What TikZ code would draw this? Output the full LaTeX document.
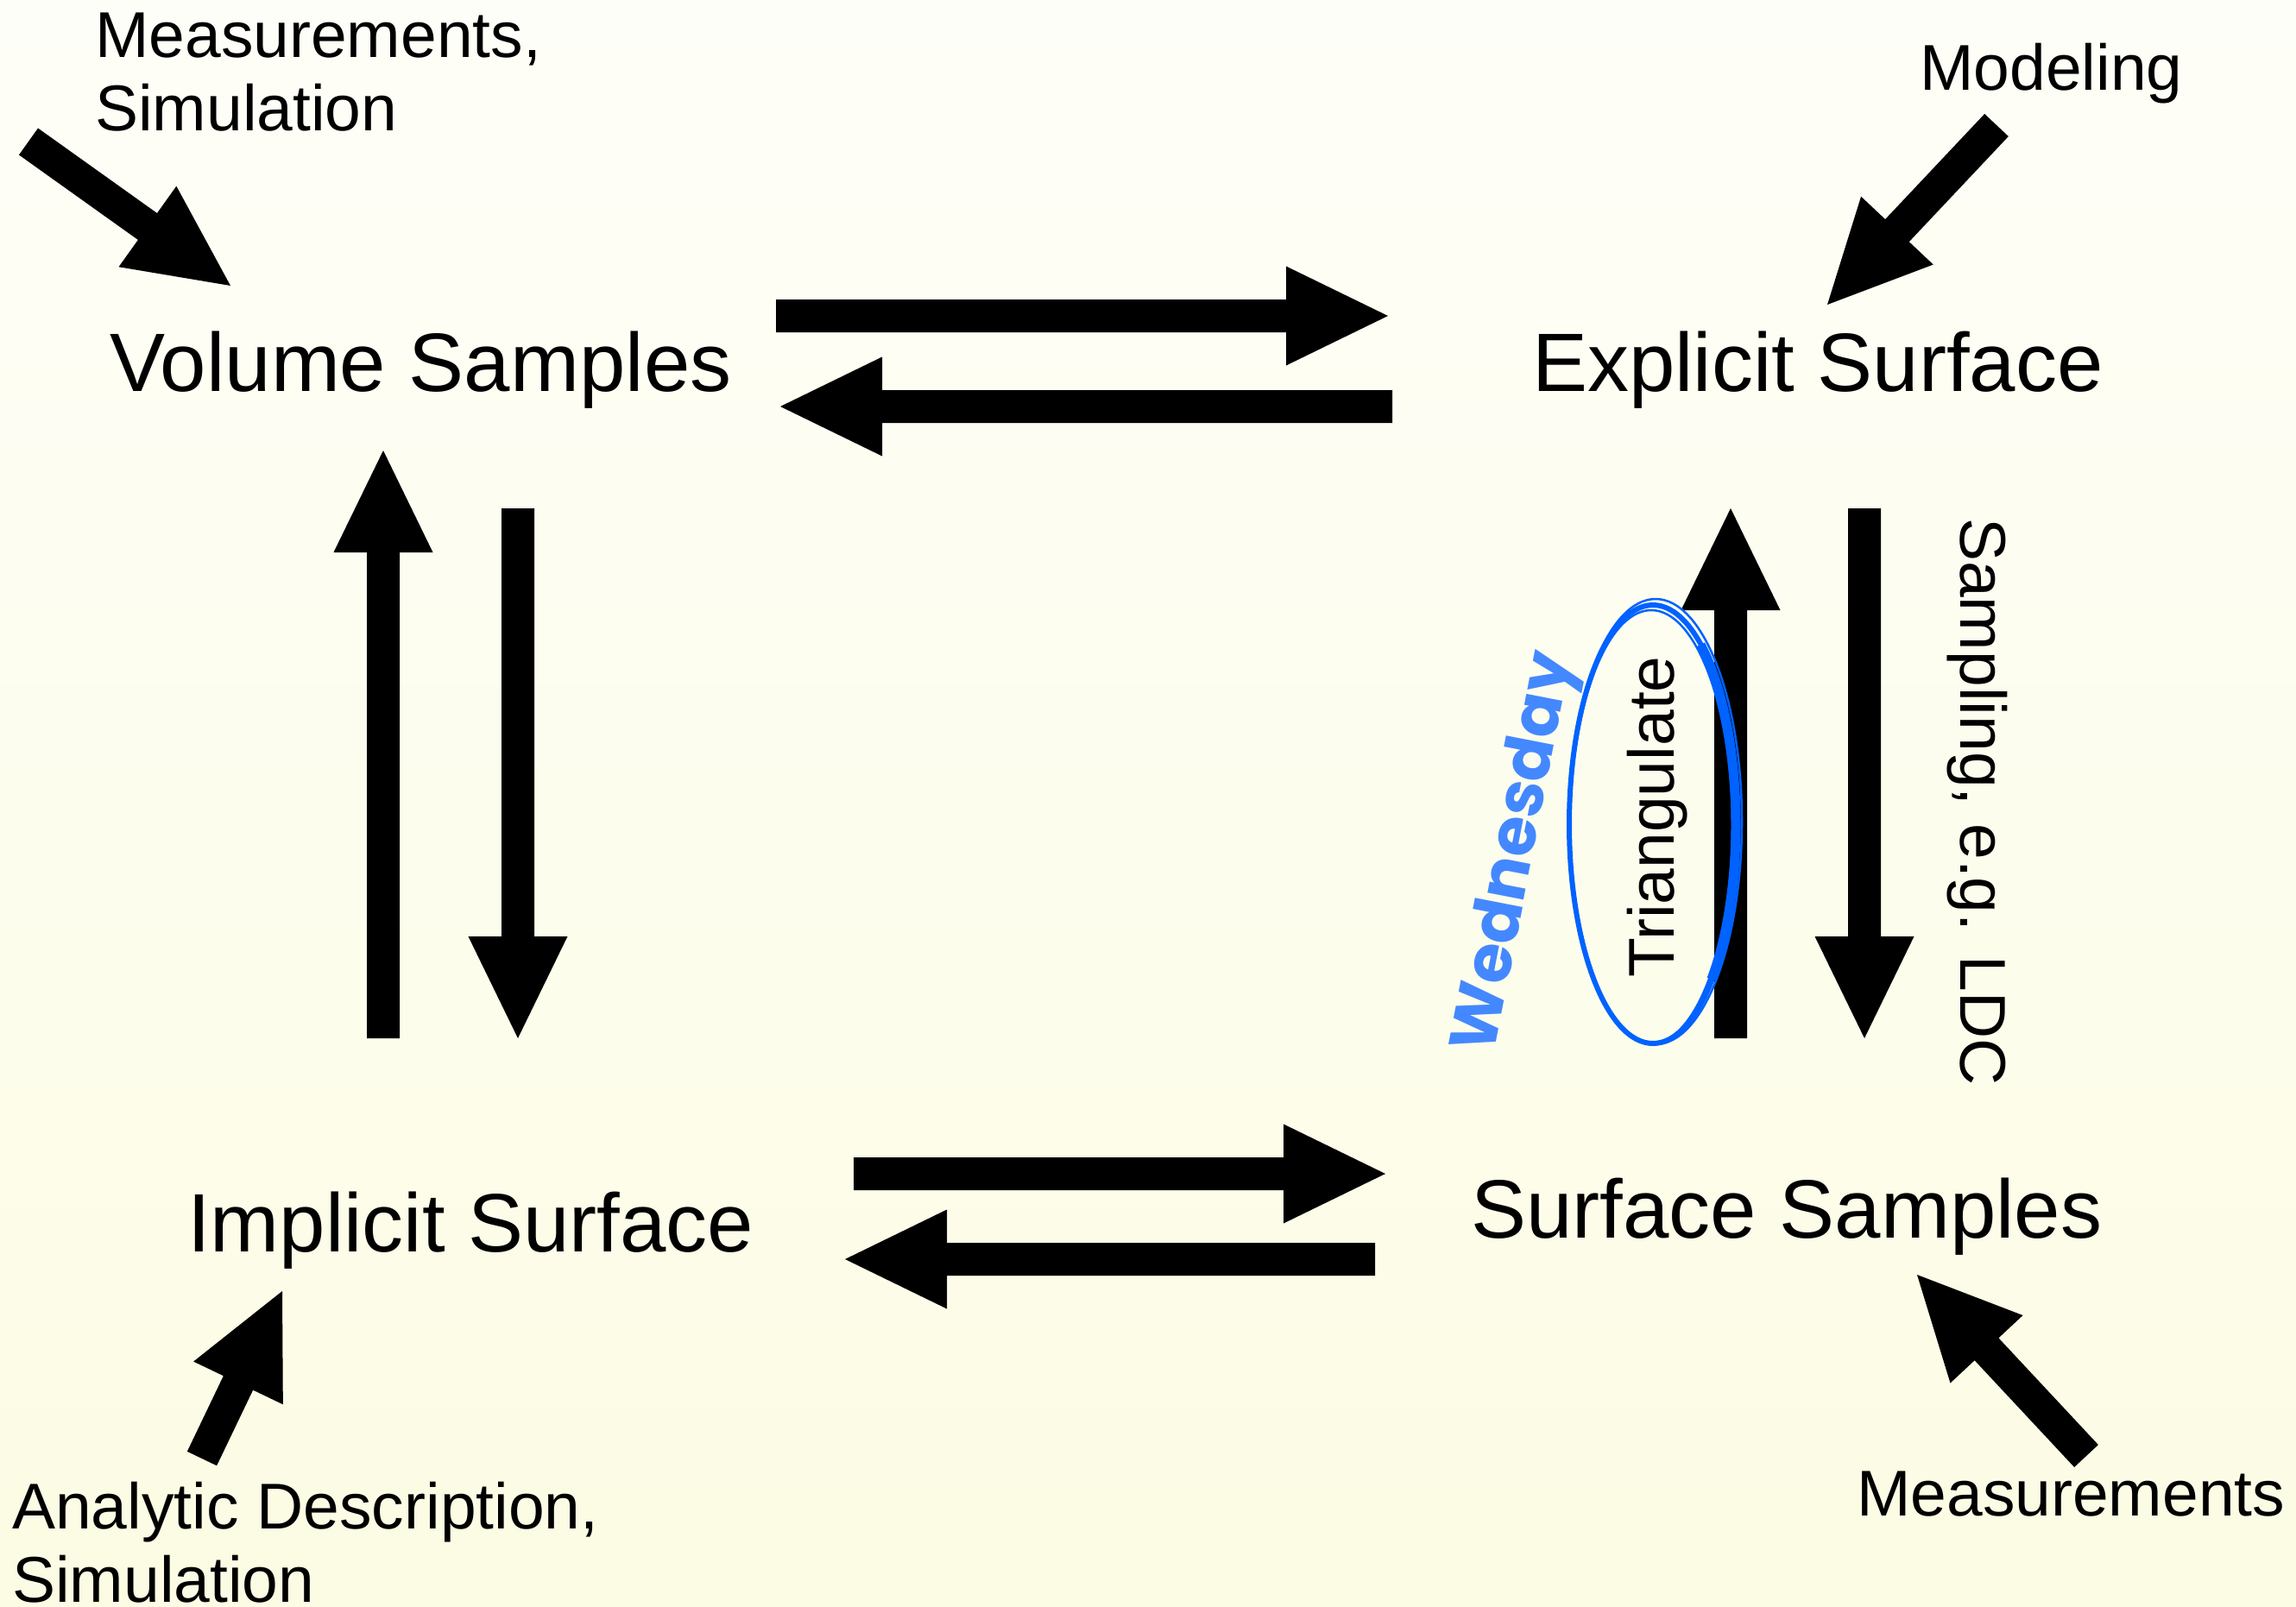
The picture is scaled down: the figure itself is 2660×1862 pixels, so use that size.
\documentclass[tikz,border=0pt]{standalone}
\usepackage{fontspec}
\setmainfont{Liberation Sans}
\newfontfamily\handfont{Poppins}
\usetikzlibrary{calc}

\definecolor{bgtop}{RGB}{254,254,248}
\definecolor{bgbot}{RGB}{252,252,228}
\definecolor{inkblue}{RGB}{0,98,255}
\definecolor{noteblue}{RGB}{68,136,255}

% block arrow from tail centre #1 to tip #2 (shaft 38, head 115 wide, 118 long)
\newcommand\blockarrow[2]{%
  \coordinate (hb) at ($(#2)!118pt!(#1)$);
  \fill ($(#1)!19pt!90:(#2)$) -- ($(hb)!19pt!90:(#2)$) -- ($(hb)!57.5pt!90:(#2)$)
    -- (#2) -- ($(hb)!57.5pt!-90:(#2)$) -- ($(hb)!19pt!-90:(#2)$)
    -- ($(#1)!19pt!-90:(#2)$) -- cycle;}

\begin{document}
\begin{tikzpicture}[x=1pt,y=-1pt,
  big/.style={font=\fontsize{96}{110}\selectfont, inner sep=0pt, anchor=base west},
  small/.style={font=\fontsize{75}{85}\selectfont, inner sep=0pt},
  note/.style={font=\handfont\bfseries\fontsize{76}{86}\selectfont, text=noteblue, inner sep=0pt},
  ring/.style={draw=inkblue, line width=6pt}]

% background
\useasboundingbox (0,0) rectangle (2660,1862);
\shade[top color=bgtop, bottom color=bgbot] (0,0) rectangle (2660,1862);

% main labels
\node[big] (vol) at (127,453) {Volume Samples};
\node[big] (expl) at (1775,453) {Explicit Surface};
\node[big] (impl) at (217,1450) {Implicit Surface};
\node[big] (surf) at (1704,1434) {Surface Samples};

% source labels
\node[small, anchor=north west, align=left] (measim) at (110,15) {Measurements,\\Simulation};
\node[small, anchor=base west] (model) at (2224,105) {Modeling};
\node[small, anchor=north west, align=left] (analytic) at (14,1717) {Analytic Description,\\Simulation};
\node[small, anchor=base west] (meas) at (2151,1756) {Measurements};

% edge labels
\node[small, anchor=base west, rotate=-90] (sampling) at (2271,600) {Sampling, e.g. LDC};
\node[small, anchor=base west, rotate=90] (tri) at (1939,1133) {Triangulate};

% arrow end points
\coordinate (ve-a) at (899,366);   \coordinate (ve-b) at (1608,366);
\coordinate (ev-a) at (1613,471);  \coordinate (ev-b) at (904,471);
\coordinate (is-a) at (989,1360);  \coordinate (is-b) at (1605,1360);
\coordinate (si-a) at (1593,1459); \coordinate (si-b) at (979,1459);
\coordinate (iv-a) at (444,1203);  \coordinate (iv-b) at (444,522);
\coordinate (vi-a) at (600,589);   \coordinate (vi-b) at (600,1203);
\coordinate (se-a) at (2005,1203); \coordinate (se-b) at (2005,589);
\coordinate (es-a) at (2160,589);  \coordinate (es-b) at (2160,1203);
\coordinate (tl-a) at (33,164);    \coordinate (tl-b) at (267,331);
\coordinate (tr-a) at (2313,145);  \coordinate (tr-b) at (2117,353);
\coordinate (bl-a) at (234,1690);  \coordinate (bl-b) at (327,1496);
\coordinate (br-a) at (2417,1687); \coordinate (br-b) at (2221,1477);

\blockarrow{ve-a}{ve-b}
\blockarrow{ev-a}{ev-b}
\blockarrow{is-a}{is-b}
\blockarrow{si-a}{si-b}
\blockarrow{iv-a}{iv-b}
\blockarrow{vi-a}{vi-b}
\blockarrow{se-a}{se-b}
\blockarrow{es-a}{es-b}
\blockarrow{tl-a}{tl-b}
\blockarrow{tr-a}{tr-b}
\blockarrow{bl-a}{bl-b}
\blockarrow{br-a}{br-b}

% hand-drawn ring round the label
\coordinate (ringc) at (1915,955);
\draw[ring] (ringc) ellipse [x radius=97, y radius=254];
\draw[ring, line width=2.5pt] ($(ringc)+(3,-3)$) ellipse [x radius=100, y radius=258];
\draw[ring, line width=2.5pt] ($(ringc)+(-2,3)$) ellipse [x radius=94, y radius=251];
\draw[ring, line width=11pt] ($(ringc)+(96,0)$) arc [start angle=0, end angle=45, x radius=96, y radius=254];
\draw[ring, line width=11pt] ($(ringc)+(96,0)$) arc [start angle=0, end angle=-55, x radius=96, y radius=254];

% handwritten note
\node[note, rotate=79] (wed) at (1758,988) {Wednesday};

\end{tikzpicture}
\end{document}
